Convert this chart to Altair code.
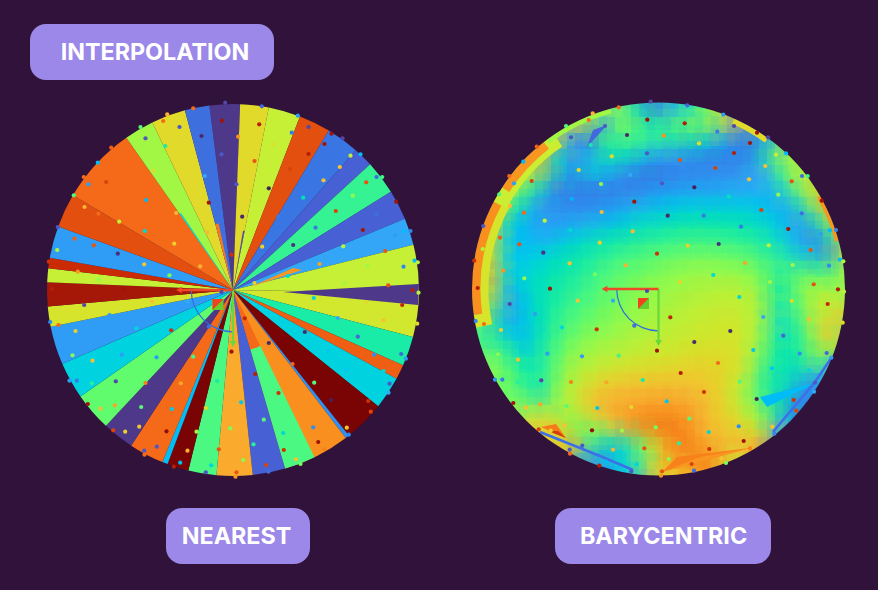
import math
import altair as alt
import pandas as pd

BG = "#30123b"
PILL = "#9b88e8"
CX_L, CY_L, R_L = 233.0, 290.0, 186.0
CX_R, CY_R, R_R = 658.5, 289.0, 186.5
TURBO = ["#30123B", "#4662D7", "#36AAF9", "#1AE4B6", "#72FE5E", "#C8EF34", "#FABA39", "#F66B19", "#CB2A04", "#7A0403"]

# wedge boundaries (deg clockwise from north), colour value on the turbo scale
W_START = [-7.3, 2.2, 11.1, 21.1, 31.0, 41.3, 47.5, 58.1, 67.5, 75.9, 91.0, 104.6, 113.9, 118.5,
           128.7, 141.5, 142.7, 163.7, 173.9, 185.1, 193.9, 200.6, 202.3, 213.2, 223.1, 235.1,
           246.6, 258.6, 264.9, 272.4, 276.7, 280.0, 290.0, 300.6, 325.0, 334.3, 345.0]
W_END = [2.2, 11.1, 21.1, 31.0, 41.3, 47.5, 58.1, 67.5, 75.9, 91.0, 104.6, 113.9, 118.5, 128.7,
         141.5, 142.7, 163.7, 173.9, 185.1, 193.9, 200.6, 202.3, 213.2, 223.1, 235.1, 246.6,
         258.6, 264.9, 272.4, 276.7, 280.0, 290.0, 300.6, 325.0, 334.3, 345.0, 352.7]
W_VAL = [0.06, 0.6, 0.55, 0.83, 0.14, 0.11, 0.39, 0.11, 0.215, 0.55, 0.57, 0.36, 0.8, 0.29,
         1.0, 0.18, 0.73, 0.11, 0.69, 0.41, 1.0, 0.25, 0.78, 0.06, 0.43, 0.29,
         0.2, 0.58, 0.94, 0.55, 0.89, 0.2, 0.83, 0.78, 0.5, 0.6, 0.13]

# wedges that sit over the first ones: start, end, inner radius, outer radius, value
U_START = [154.0, 154.0, 325.0, 345.0, 9.6]
U_END = [163.7, 163.7, 326.0, 347.8, 11.1]
U_INNER = [62.0, 0.0, 0.0, 0.0, 0.0]
U_OUTER = [186.0, 62.0, 93.0, 68.0, 60.0]
U_VAL = [0.41, 0.78, 0.3, 0.76, 0.08]

# triangles on the nearest disk
TL_X = [[283, 419, 418], [250, 293, 302]]
TL_Y = [[292, 284, 305], [287, 268, 270]]
TL_V = [0.06, 0.72]

# rim bands on the barycentric disk: start, end, inner radius, value
RIM_START = [258, 262, 298, 303, 323, 24, 60]
RIM_END = [300, 298, 326, 322, 345, 36, 75]
RIM_INNER = [170, 178, 172, 178, 182, 181, 183]
RIM_VAL = [.58, .73, .56, .72, .5, .6, .72]

# sharp facets on the barycentric disk
TR_X = [[587, 593, 607], [541, 556, 566], [548, 558, 566], [815, 760, 767], [662, 677, 750], [662, 750, 700]]
TR_Y = [[147, 130, 125], [427, 424, 438], [431, 431, 438], [383, 397, 407], [472, 457, 448], [472, 448, 457]]
TR_V = [.12, .76, .86, .25, .75, .72]

# blue streaks near the lower rim
ST_X = [[540, 600, 633], [832, 815, 773]]
ST_Y = [[432, 456, 470], [357, 382, 432]]

# scattered samples: x, y, value
PX = [650.7,618.7,592.7,588.7,566,536.7,523.3,509.3,514,531.7,499.3,510,524,483.3,500,519.3,482.7,474.3,543.3,503.3,524.3,477.7,550,544.7,570.3,571.7,601,578.7,571,590.7,605,611.7,627,647.3,663.7,647,684.7,687.3,723.3,734,717.3,699,680,630.3,662,694.3,715.3,734,750,757,768,776,786,765.3,749,791.7,802,807.7,778.3,821.7,761.3,728.7,801.7,703.7,667.7,634.3,601.7,632.7,599.7,657,687.7,718.7,741,768.7,788.3,820.7,830,836,810.7,840,843.3,829,792.7,745,713.3,680,625.7,569.7,595,770,813.7,838,
      647,613,577.7,509.7,475.7,484,501,535,562,596.7,634.3,670.3,739.3,791.7,827.7,844,763.3,809,842.7,730.3,694.3,783.3,826.7,831.3,753.3,799.7,657,718,680.7,772,809,815,814,739.7,642.7,618.7,582,547.3,518,498,495,502.3,517.3,541.3,571,606.3,704,756.7,666.7,631.3,597.3,566.7,540.3,526,513.3,793.7,796.3,689.3,564.7,550.7,538.7,592,622,655.7,708.7,738.7,772.3,774.3,679,743.7,582.3,569.7,570,613,644.3,709.3,750,668.7,721.3,726,691.7,636.7,605.7,599.3,631.3,662,661,694]
PY = [101.7,107.3,113.3,120,126,146.7,161.7,176,183.3,181,194.3,206,212.7,226,237.7,244.3,249,260.7,252.7,270.7,278.3,288,288.7,220.7,230,199,184,170,137.3,145,126,156.3,135,119.7,135.7,153.3,123.3,105.3,114.7,126,131.7,143.3,160,175,183.3,187.3,168,153,143,132.7,137.3,154.7,153.3,166,179.3,181.3,176,176,194.7,200.7,210,196.7,213.3,215.7,215.7,201.7,212,231.3,242.7,253.7,245.7,244,226.7,245.3,229,234.3,230.3,230,250,259.7,261.3,265.7,265,263,275,282,265.3,263.3,274.3,282,284.3,289.3,
      291,300.7,300.7,304,321,324,330,314,327.3,329.3,325.7,317.3,297,301,304,291.7,317,319.3,322.7,331,342,335.7,353,357.7,350,353.7,350.7,363,373,368.3,370,382.7,391.7,381.7,380,355.7,356.3,353.7,359.7,354.3,379.7,379.7,382.3,380.3,382,382.3,392,399,401.3,407,408,406,404.3,407.7,403,400,410.7,418.7,425.7,430.7,429.3,430.3,430.7,427.3,432,426.3,426.7,433.7,443.3,441,445.7,449.7,453.7,449.7,448.3,449,448.3,459,458.3,463,464,464.3,461.7,465.7,471.3,471.3,475.7,470.7]
PV = [.08,.78,.68,.78,.42,.8,.25,.78,.2,.85,.42,.67,.78,.1,.8,.82,.52,.88,.05,.72,.48,.92,.95,.55,.3,.24,.5,.6,.1,.35,.1,.6,.04,.95,.72,.1,.92,.12,.2,.08,.15,.58,.82,.22,.1,.03,.85,.92,.95,.95,.08,.55,.25,.65,.65,.82,.13,.4,.48,.95,.85,.33,.13,.15,.04,.95,.67,.67,.62,.88,.62,.05,.15,.53,.95,.2,.25,.17,.82,.25,.52,.17,.5,.7,.3,.62,.68,.65,.45,.5,.82,.92,
      .08,.22,.65,.08,.17,.78,.62,.2,.3,.88,.13,.9,.3,.6,.9,.53,.22,.65,.6,.04,.04,.12,.12,.2,.27,.18,.95,.78,.92,.27,.3,.1,.22,.42,.35,.4,.2,.2,.65,.47,.2,.15,.38,.08,.75,.7,.88,.03,.27,.6,.27,.42,.7,.65,.95,.88,.85,.42,.65,.62,.85,.97,.5,.45,.3,.18,.65,.17,.38,.95,.1,.1,.78,.68,.82,.88,.75,.47,.65,.45,.85,.3,.25,.92,.1,.82,.72,.13]

# barycentric image: rows of values (row centre y, first column centre x, values every 16 px)
HEAT = [
 (105, 603, [.47,.47,.3,.13,.2,.27,.38]),
 (121, 571, [.6,.55,.2,.47,.41,.35,.41,.45,.5,.55,.65]),
 (137, 555, [.62,.2,.13,.36,.43,.41,.39,.37,.35,.33,.27,.18,.14,.2]),
 (153, 539, [.7,.32,.2,.2,.36,.33,.3,.23,.21,.19,.17,.15,.16,.15,.33,.52]),
 (169, 523, [.55,.65,.32,.18,.3,.27,.2,.16,.13,.15,.16,.17,.18,.18,.2,.22,.41,.55]),
 (185, 507, [.55,.45,.32,.17,.15,.15,.15,.15,.16,.18,.19,.2,.2,.2,.21,.22,.22,.3,.47,.58]),
 (201, 491, [.65,.45,.32,.2,.17,.17,.17,.18,.19,.21,.23,.25,.27,.27,.27,.27,.27,.25,.21,.3,.52,.72]),
 (217, 491, [.6,.32,.24,.2,.2,.2,.21,.23,.25,.3,.31,.32,.33,.33,.33,.33,.32,.3,.25,.2,.31,.55]),
 (233, 491, [.58,.27,.25,.22,.23,.27,.3,.32,.33,.35,.36,.37,.38,.38,.38,.37,.36,.34,.3,.22,.17,.33,.6]),
 (249, 475, [.7,.55,.27,.26,.28,.31,.33,.35,.37,.39,.4,.41,.42,.43,.43,.43,.42,.41,.38,.34,.27,.2,.17,.6]),
 (265, 475, [.72,.58,.27,.29,.31,.33,.35,.37,.4,.42,.43,.44,.46,.47,.48,.48,.47,.46,.43,.4,.4,.38,.35,.52]),
 (281, 475, [.72,.58,.24,.31,.33,.35,.37,.4,.42,.44,.45,.47,.48,.5,.5,.51,.52,.5,.45,.33,.45,.5,.45,.52]),
 (297, 475, [.72,.48,.2,.27,.33,.36,.39,.41,.43,.45,.47,.49,.5,.52,.53,.54,.55,.54,.49,.33,.43,.52,.55,.48]),
 (313, 475, [.55,.38,.2,.27,.33,.38,.41,.43,.45,.47,.49,.5,.52,.54,.55,.56,.56,.55,.49,.31,.41,.52,.6,.65]),
 (329, 491, [.38,.24,.26,.33,.39,.43,.45,.47,.49,.51,.52,.54,.55,.56,.57,.58,.56,.48,.31,.36,.48,.65,.43]),
 (345, 491, [.41,.36,.26,.35,.41,.46,.49,.51,.52,.54,.55,.56,.57,.58,.58,.58,.56,.45,.33,.36,.45,.62]),
 (361, 491, [.48,.43,.33,.36,.43,.5,.52,.54,.56,.57,.58,.59,.6,.61,.61,.6,.56,.41,.33,.33,.43,.38]),
 (377, 507, [.45,.36,.36,.45,.52,.57,.6,.62,.63,.63,.64,.64,.63,.62,.58,.52,.37,.35,.3,.2,.2]),
 (393, 507, [.45,.41,.31,.48,.56,.63,.66,.67,.67,.68,.68,.67,.66,.63,.57,.48,.38,.33,.18,.15]),
 (409, 523, [.52,.52,.5,.5,.62,.68,.7,.71,.72,.72,.72,.68,.63,.6,.53,.45,.33,.15]),
 (425, 539, [.66,.62,.45,.45,.56,.66,.73,.76,.77,.74,.68,.64,.62,.58,.52,.2]),
 (441, 555, [.6,.7,.43,.33,.3,.41,.56,.7,.76,.7,.68,.66,.68,.7,.2]),
 (457, 587, [.2,.18,.27,.38,.52,.72,.72,.75,.72,.55]),
 (473, 635, [.27,.65,.6,.65]),
]

# label boxes
PILL_TEXT = ["INTERPOLATION", "NEAREST", "BARYCENTRIC"]
PILL_X0 = [30, 166, 555]
PILL_X1 = [274, 310, 771]
PILL_Y0 = [24, 508, 508]
PILL_Y1 = [80, 564, 564]
TEXT_X = [155, 236.5, 663.5]
TEXT_Y = [53, 537, 537]

xs = alt.Scale(domain=[8, 868], range=[0, 860], nice=False, zero=False)
ys = alt.Scale(domain=[8, 578], range=[0, 570], nice=False, zero=False)
col = alt.Color("v:Q", scale=alt.Scale(domain=[i / 9 for i in range(10)], range=TURBO), legend=None)
X = lambda f: alt.X(f, type="quantitative", scale=xs, axis=None)
Y = lambda f: alt.Y(f, type="quantitative", scale=ys, axis=None)


def arcs(df, cx, cy):
    return alt.Chart(df).mark_arc(stroke=None).encode(
        x=alt.value(cx - 8), y=alt.value(cy - 8),
        theta=alt.Theta("a0:Q", scale=None, stack=None), theta2="a1:Q",
        radius=alt.Radius("r1:Q", scale=None), radius2="r0:Q", color=col)


def wedge_df(a0, a1, r0, r1, v):
    return pd.DataFrame({"a0": [math.radians(a) for a in a0], "a1": [math.radians(a) for a in a1],
                         "r0": r0, "r1": r1, "v": v})


def triangles(xl, yl, vl):
    rows = []
    for k, (xv, yv, v) in enumerate(zip(xl, yl, vl)):
        p = sorted(zip(xv, yv))
        (x0, y0), (x1, y1), (x2, y2) = p
        ym = y0 + (y2 - y0) * (x1 - x0) / (x2 - x0)
        rows.append({"id": k, "x": x0, "y": y0, "y2": y0, "v": v})
        rows.append({"id": k, "x": x1, "y": y1, "y2": ym, "v": v})
        rows.append({"id": k, "x": x2, "y": y2, "y2": y2, "v": v})
    return alt.Chart(pd.DataFrame(rows)).mark_area().encode(
        x=X("x"), y=Y("y"), y2="y2:Q", color=col, detail="id:N")


def gizmo(cx, cy):
    layers = []
    layers.append(alt.Chart(pd.DataFrame({"a0": [math.pi], "a1": [1.5 * math.pi], "r0": [41.2], "r1": [42.4]}))
                  .mark_arc(color="#2f6fe0").encode(
        x=alt.value(cx - 8), y=alt.value(cy - 8),
        theta=alt.Theta("a0:Q", scale=None, stack=None), theta2="a1:Q",
        radius=alt.Radius("r1:Q", scale=None), radius2="r0:Q"))
    red = pd.DataFrame({"x": [cx], "x2": [cx - 52], "y": [cy]})
    grn = pd.DataFrame({"x": [cx], "y": [cy], "y2": [cy + 52]})
    layers.append(alt.Chart(grn).mark_rule(color="#68d83a", strokeWidth=2.2).encode(x=X("x"), y=Y("y"), y2="y2:Q"))
    layers.append(alt.Chart(red).mark_rule(color="#ee4a28", strokeWidth=2.6).encode(x=X("x"), x2="x2:Q", y=Y("y")))
    layers.append(alt.Chart(pd.DataFrame({"x": [cx], "y": [cy + 54]})).mark_point(shape="triangle-down", filled=True, size=45, color="#68d83a", opacity=1).encode(x=X("x"), y=Y("y")))
    layers.append(alt.Chart(pd.DataFrame({"x": [cx - 54], "y": [cy]})).mark_point(shape="triangle-left", filled=True, size=45, color="#ee4a28", opacity=1).encode(x=X("x"), y=Y("y")))
    sq = pd.DataFrame({"x": [cx - 20.5], "x2": [cx - 9.5], "y": [cy + 9], "y2": [cy + 20]})
    layers.append(alt.Chart(sq).mark_rect(color="#66cc30").encode(x=X("x"), x2="x2:Q", y=Y("y"), y2="y2:Q"))
    tri = pd.DataFrame({"x": [cx - 20.5, cx - 9.5], "y": [cy + 9, cy + 9], "y2": [cy + 20, cy + 9]})
    layers.append(alt.Chart(tri).mark_area(color="#f0421e").encode(x=X("x"), y=Y("y"), y2="y2:Q"))
    return layers


layers = []
# ---- nearest disk
layers.append(arcs(wedge_df(W_START, W_END, [0.0] * len(W_VAL), [R_L] * len(W_VAL), W_VAL), CX_L, CY_L))
layers.append(arcs(wedge_df(U_START, U_END, U_INNER, U_OUTER, U_VAL), CX_L, CY_L))
layers.append(triangles(TL_X, TL_Y, TL_V))
layers += gizmo(CX_L, CY_L)

# ---- barycentric disk
heat_rows = []
for y, x0, vals in HEAT:
    for i, v in enumerate(vals):
        heat_rows.append({"cx": x0 + 16 * i, "cy": y, "v": v})
heat = pd.DataFrame(heat_rows)


def heat_layer(half, opacity, flip=False):
    d = heat.assign(x0=heat.cx - half, x1=heat.cx + half, y0=heat.cy - half, y1=heat.cy + half)
    if flip:
        d = d.iloc[::-1]
    return alt.Chart(d).mark_rect(opacity=opacity).encode(x=X("x0"), x2="x1:Q", y=Y("y0"), y2="y1:Q", color=col)


layers.append(heat_layer(16, 1))
layers.append(heat_layer(9, 1))
layers.append(heat_layer(14, 0.4))
layers.append(heat_layer(18, 0.22, True))
layers.append(heat_layer(21, 0.16))
layers.append(heat_layer(25, 0.12, True))
layers.append(heat_layer(12, 0.25, True))
layers.append(arcs(wedge_df(RIM_START, RIM_END, RIM_INNER, [R_R] * len(RIM_VAL), RIM_VAL), CX_R, CY_R))
layers.append(triangles(TR_X, TR_Y, TR_V))
for sx, sy in zip(ST_X, ST_Y):
    layers.append(alt.Chart(pd.DataFrame({"x": sx, "y": sy, "o": range(len(sx))})).mark_line(color="#3f6fe8", strokeWidth=2.5).encode(x=X("x"), y=Y("y"), order="o:Q"))
layers.append(alt.Chart(pd.DataFrame({"a0": [0.0], "a1": [2 * math.pi], "r0": [R_R], "r1": [236.0]}))
              .mark_arc(color=BG).encode(
    x=alt.value(CX_R - 8), y=alt.value(CY_R - 8),
    theta=alt.Theta("a0:Q", scale=None, stack=None), theta2="a1:Q",
    radius=alt.Radius("r1:Q", scale=None), radius2="r0:Q"))
layers += gizmo(CX_R, CY_R)

# ---- samples on both disks
pts = pd.DataFrame({"x": PX, "y": PY, "v": PV})
pts_l = pts.assign(x=pts.x - (CX_R - CX_L), y=pts.y + (CY_L - CY_R))
for d in (pts_l, pts):
    layers.append(alt.Chart(d).mark_circle(size=18, opacity=1).encode(x=X("x"), y=Y("y"), color=col))

# ---- labels
pill = pd.DataFrame({"t": PILL_TEXT, "x0": PILL_X0, "x1": PILL_X1, "y0": PILL_Y0, "y1": PILL_Y1, "mx": TEXT_X, "my": TEXT_Y})
layers.append(alt.Chart(pill).mark_rect(color=PILL, cornerRadius=16).encode(x=X("x0"), x2="x1:Q", y=Y("y0"), y2="y1:Q"))
layers.append(alt.Chart(pill).mark_text(color="white", font="Inter", fontSize=23.3, fontWeight=700, align="center", baseline="middle").encode(x=X("mx"), y=Y("my"), text="t:N"))

chart = alt.layer(*layers).properties(
    width=860, height=570, background=BG, padding=0,
    autosize=alt.AutoSizeParams(type="none"),
).configure_view(stroke=None)

chart.save("out.html", embed_options={"renderer": "svg", "actions": False,
                                      "defaultStyle": "html,body{background:#30123b;overflow:hidden}"})
